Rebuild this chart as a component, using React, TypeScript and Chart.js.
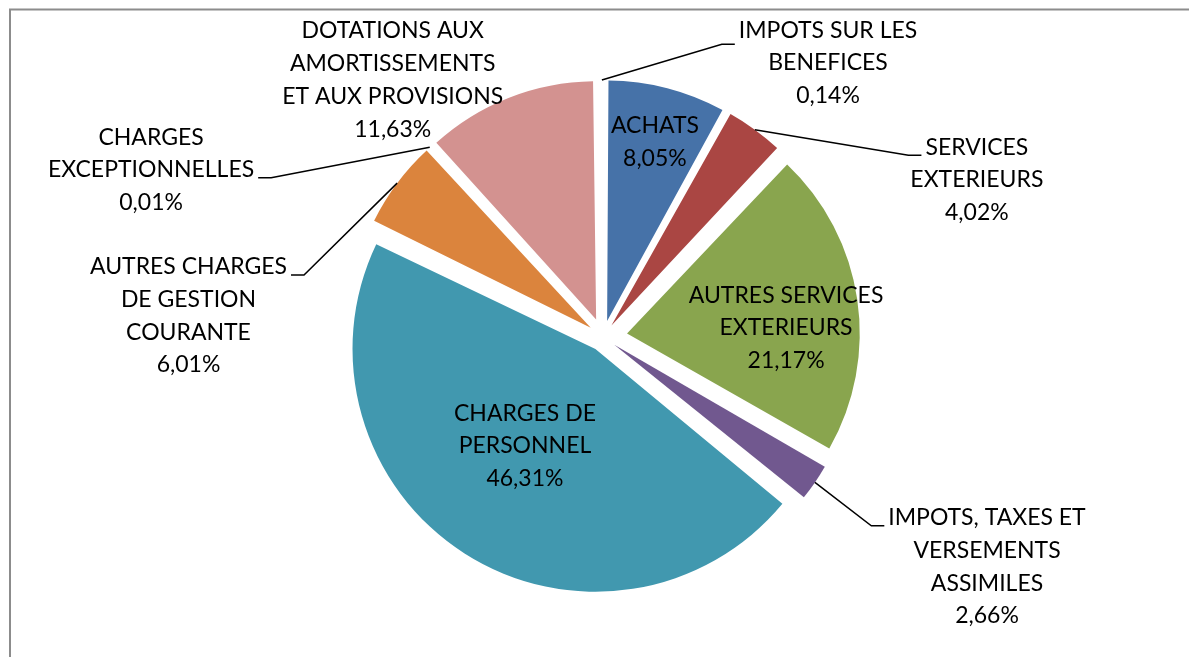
import React, { useEffect, useRef } from "react";
import { Chart, registerables } from "chart.js";

Chart.register(...registerables);

// ---- data ----
const categories = [
  "ACHATS",
  "SERVICES EXTERIEURS",
  "AUTRES SERVICES EXTERIEURS",
  "IMPOTS, TAXES ET VERSEMENTS ASSIMILES",
  "CHARGES DE PERSONNEL",
  "AUTRES CHARGES DE GESTION COURANTE",
  "CHARGES EXCEPTIONNELLES",
  "DOTATIONS AUX AMORTISSEMENTS ET AUX PROVISIONS",
  "IMPOTS SUR LES BENEFICES",
];
const shares = [8.05, 4.02, 21.17, 2.66, 46.31, 6.01, 0.01, 11.63, 0.14];
const labelLines = [
  ["ACHATS"],
  ["SERVICES", "EXTERIEURS"],
  ["AUTRES SERVICES", "EXTERIEURS"],
  ["IMPOTS, TAXES ET", "VERSEMENTS", "ASSIMILES"],
  ["CHARGES DE", "PERSONNEL"],
  ["AUTRES CHARGES", "DE GESTION", "COURANTE"],
  ["CHARGES", "EXCEPTIONNELLES"],
  ["DOTATIONS AUX", "AMORTISSEMENTS", "ET AUX PROVISIONS"],
  ["IMPOTS SUR LES", "BENEFICES"],
];

// ---- styles / layout ----
const sliceColors = [
  "#4672A8",
  "#AA4643",
  "#89A54E",
  "#71588F",
  "#4198AF",
  "#DB843D",
  "#93A9CF",
  "#D39290",
  "#B9CD96",
];
// label block centre, polar from the pie centre (deg clockwise from top, multiple of radius)
const labelAngle = [14.9, 67.2, 87.2, 120.9, 215.6, 272.9, 290.3, 320.7, 39.4];
const labelDist = [0.87, 1.748, 0.79, 1.929, 0.578, 1.789, 2.077, 1.431, 1.528];
// which text line the leader attaches to (-1: no leader), and vertical shift of the hook
const leaderLine = [-1, 0, -1, 0, -1, 0, 1, -1, 0];
const leaderDy = [8, 8, 8, 8, 8, 8, 8, 8, 14];
const EXPLODE = 25;
const RADIUS = 232;
const FONT_SIZE = 23;
const LINE_H = 32.7;

const pct = (v: number) => v.toFixed(2).replace(".", ",") + "%";

const sliceOffsets = shares.map((v) => {
  const total = shares.reduce((a, b) => a + b, 0);
  const circ = (v / total) * Math.PI * 2;
  const fix = 1 - Math.sin(Math.min(Math.PI, circ));
  return (EXPLODE * 4) / (1 + fix);
});

const frame = {
  id: "frame",
  beforeDraw(chart: any) {
    const ctx = chart.ctx;
    ctx.save();
    ctx.fillStyle = "#ffffff";
    ctx.fillRect(0, 0, chart.width, chart.height);
    ctx.strokeStyle = "#8c8c8c";
    ctx.lineWidth = 2;
    ctx.strokeRect(10, 9.5, chart.width + 20, chart.height + 20);
    ctx.restore();
  },
};

const labelsPlugin = {
  id: "pieLabels",
  afterDraw(chart: any) {
    const ctx = chart.ctx;
    const meta = chart.getDatasetMeta(0);
    const arcs = meta.data;
    if (!arcs.length) return;
    const cx = arcs[0].x;
    const cy = arcs[0].y;
    const R = arcs[0].outerRadius;
    ctx.save();
    ctx.font = `${FONT_SIZE}px Lato`;
    ctx.fillStyle = "#000000";
    ctx.textAlign = "center";
    ctx.textBaseline = "middle";
    ctx.strokeStyle = "#000000";
    ctx.lineWidth = 1.5;
    arcs.forEach((arc: any, i: number) => {
      const lines = [...labelLines[i], pct(shares[i])];
      const a = (labelAngle[i] * Math.PI) / 180;
      const lx = cx + Math.sin(a) * labelDist[i] * R;
      const ly = cy - Math.cos(a) * labelDist[i] * R;
      const first = ly - (LINE_H * (lines.length - 1)) / 2;
      lines.forEach((t, k) => ctx.fillText(t, lx, first + k * LINE_H));
      const li = leaderLine[i];
      if (li >= 0) {
        const mid = (arc.startAngle + arc.endAngle) / 2;
        const circ = arc.endAngle - arc.startAngle;
        const off = arc.options.offset || 0;
        const fix = 1 - Math.sin(Math.min(Math.PI, circ));
        const tr = (off / 4) * (1 + fix);
        const ex = cx + Math.cos(mid) * (tr + R);
        const ey = cy + Math.sin(mid) * (tr + R);
        const w = ctx.measureText(lines[li]).width;
        const yAtt = first + li * LINE_H + leaderDy[i];
        const side = lx > cx ? -1 : 1;
        const edge = lx + (side * w) / 2;
        ctx.beginPath();
        ctx.moveTo(ex, ey);
        ctx.lineTo(edge + side * 17, yAtt);
        ctx.lineTo(edge + side * 4, yAtt);
        ctx.stroke();
      }
    });
    ctx.restore();
  },
};

export default function App() {
  const ref = useRef<HTMLCanvasElement | null>(null);
  useEffect(() => {
    if (!ref.current) return;
    const chart = new Chart(ref.current, {
      type: "pie",
      data: {
        labels: categories,
        datasets: [
          {
            data: shares,
            backgroundColor: sliceColors,
            borderWidth: 0,
            offset: sliceOffsets,
          } as any,
        ],
      },
      options: {
        animation: false,
        responsive: false,
        radius: RADIUS,
        rotation: 0,
        layout: { padding: { left: 17, top: 17, right: 0, bottom: 0 } },
        plugins: {
          legend: { display: false },
          tooltip: { enabled: false },
        },
        events: [],
      } as any,
      plugins: [frame, labelsPlugin],
    });
    return () => chart.destroy();
  }, []);
  return (
    <div style={{ position: "fixed", left: 0, top: 0, width: 1189, height: 657, background: "#fff" }}>
      <canvas ref={ref} width={1189} height={657} style={{ display: "block" }} />
    </div>
  );
}
